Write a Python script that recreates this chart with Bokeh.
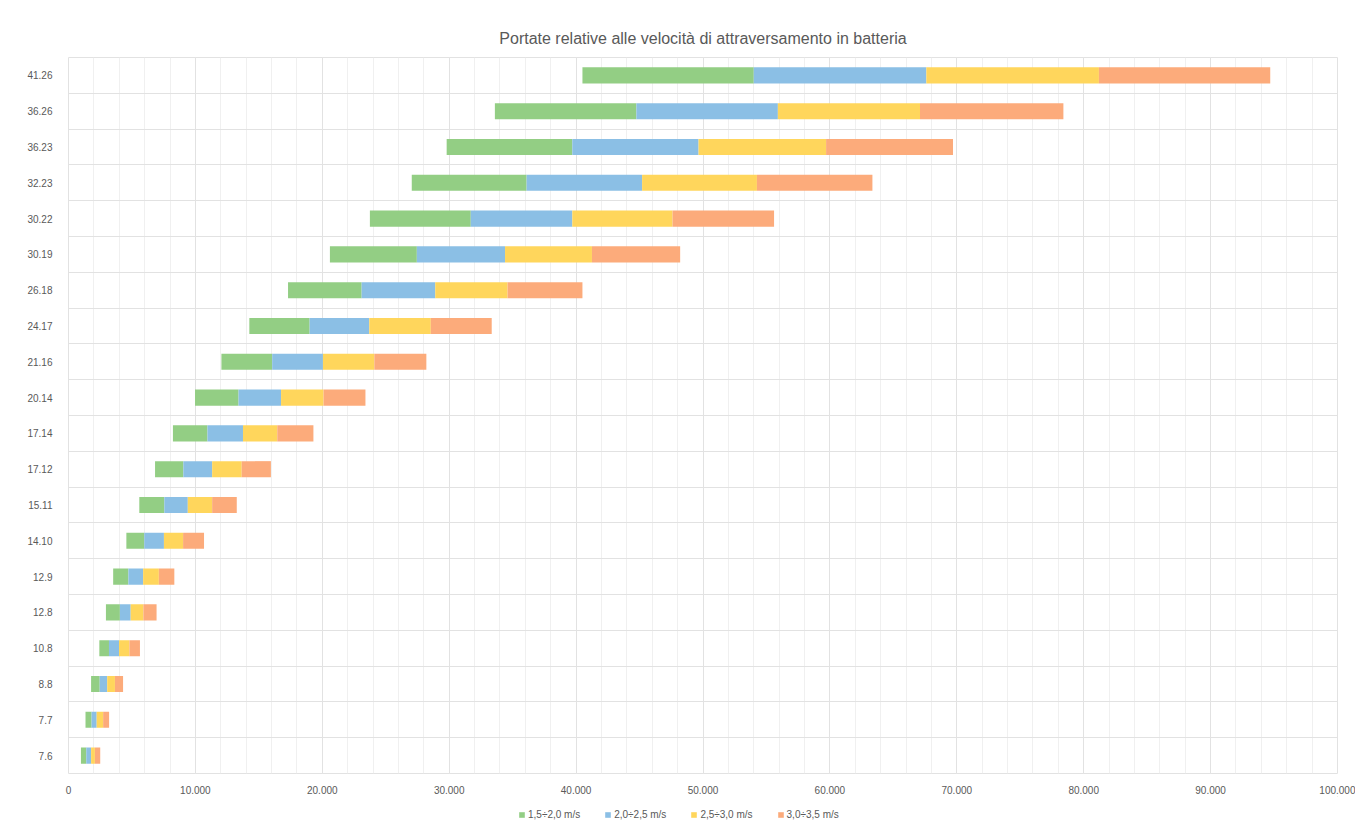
from bokeh.plotting import figure
from bokeh.layouts import column
from bokeh.models import FixedTicker, Range1d, Legend, LegendItem
from bokeh.embed import file_html
from bokeh.resources import INLINE

# Categories (bottom to top)
categories = ["7.6", "7.7", "8.8", "10.8", "12.8", "12.9", "14.10", "15.11", "17.12", "17.14",
              "20.14", "21.16", "24.17", "26.18", "30.19", "30.22", "32.23", "36.23", "36.26", "41.26"]

# Flow values at the velocity boundaries
q_15 = [980, 1340, 1780, 2430, 2950, 3520, 4560, 5580, 6820, 8230,
        9970, 12050, 14250, 17300, 20600, 23750, 27050, 29800, 33600, 40500]
q_20 = [1400, 1820, 2460, 3190, 4050, 4720, 5970, 7550, 9050, 10950,
        13400, 16050, 19000, 23100, 27450, 31700, 36100, 39700, 44750, 54000]
q_25 = [1780, 2220, 3050, 3980, 4900, 5880, 7520, 9400, 11320, 13750,
        16750, 20050, 23700, 28900, 34400, 39700, 45200, 49650, 55900, 67600]
q_30 = [2080, 2730, 3660, 4800, 5900, 7120, 9030, 11320, 13650, 16450,
        20100, 24100, 28550, 34600, 41250, 47600, 54250, 59700, 67100, 81200]
q_35 = [2500, 3200, 4300, 5630, 6940, 8340, 10680, 13260, 15950, 19300,
        23400, 28200, 33350, 40500, 48200, 55600, 63350, 69700, 78400, 94700]

series_labels = ["1,5÷2,0 m/s", "2,0÷2,5 m/s", "2,5÷3,0 m/s", "3,0÷3,5 m/s"]
series_colors = ["#93CE84", "#8BBFE5", "#FFD65C", "#FCAB7B"]

x_ticks = list(range(0, 100001, 10000))
x_minor = list(range(0, 100001, 2000))

TXT = "#595959"
FONT = "Liberation Sans"

main = figure(frame_width=1269, frame_height=716, output_backend="svg", toolbar_location=None,
              x_range=Range1d(0, 100000), y_range=Range1d(0, len(categories)),
              min_border_left=68, min_border_right=18, min_border_top=57, min_border_bottom=0)

main.title.text = "Portate relative alle velocità di attraversamento in batteria"
main.title.align = "center"
main.title.text_font = FONT
main.title.text_font_size = "16px"
main.title.text_font_style = "normal"
main.title.text_color = TXT
main.title.standoff = 22

ypos = [i + 0.5 for i in range(len(categories))]
bounds = [q_15, q_20, q_25, q_30, q_35]
for k in range(4):
    main.hbar(y=ypos, left=bounds[k], right=bounds[k + 1], height=0.45,
              fill_color=series_colors[k], line_color=None)

# x axis
main.xaxis.ticker = FixedTicker(ticks=x_ticks, minor_ticks=x_minor)
main.xaxis.major_label_overrides = {t: f"{t:,}".replace(",", ".") for t in x_ticks}
main.xaxis.axis_line_color = None
main.xaxis.major_tick_line_color = None
main.xaxis.major_tick_out = 0
main.xaxis.minor_tick_out = 0
main.xaxis.minor_tick_line_color = None
main.xaxis.major_label_text_font = FONT
main.xaxis.major_label_text_font_size = "10px"
main.xaxis.major_label_text_color = TXT
main.xaxis.major_label_standoff = 12

# y axis
main.yaxis.ticker = FixedTicker(ticks=ypos)
main.yaxis.major_label_overrides = {y: c for y, c in zip(ypos, categories)}
main.yaxis.axis_line_color = None
main.yaxis.major_tick_line_color = None
main.yaxis.major_tick_out = 0
main.yaxis.minor_tick_out = 0
main.yaxis.minor_tick_line_color = None
main.yaxis.major_label_text_font = FONT
main.yaxis.major_label_text_font_size = "10px"
main.yaxis.major_label_text_color = TXT
main.yaxis.major_label_standoff = 16

# grids
main.xgrid.grid_line_color = "#e2e2e2"
main.xgrid.minor_grid_line_color = "#f0f0f0"
main.ygrid.ticker = FixedTicker(ticks=list(range(len(categories) + 1)))
main.ygrid.grid_line_color = "#e2e2e2"
main.outline_line_color = "#e2e2e2"

# legend strip (separate small figure under the chart); its swatch glyphs sit outside its visible range
leg = figure(width=1355, height=24, output_backend="svg", toolbar_location=None,
             x_range=Range1d(0, 1), y_range=Range1d(0, 1),
             min_border=0, outline_line_color=None)
leg.axis.visible = False
leg.grid.visible = False
leg_renderers = []
for k in range(4):
    r = leg.hbar(y=[5], left=[5], right=[6], height=0.5, fill_color=series_colors[k], line_color=None)
    leg_renderers.append(r)
legend = Legend(items=[LegendItem(label=lab, renderers=[r]) for lab, r in zip(series_labels, leg_renderers)],
                orientation="horizontal", location=(450, 0),
                label_text_font=FONT, label_text_font_size="10px", label_text_color=TXT,
                glyph_width=7, glyph_height=7, spacing=24, padding=0, margin=0,
                label_standoff=3, label_height=10, border_line_color=None, background_fill_alpha=0)
leg.add_layout(legend, "center")

p = column(main, leg, spacing=0)

open("out.html", "w").write(file_html(p, INLINE))
